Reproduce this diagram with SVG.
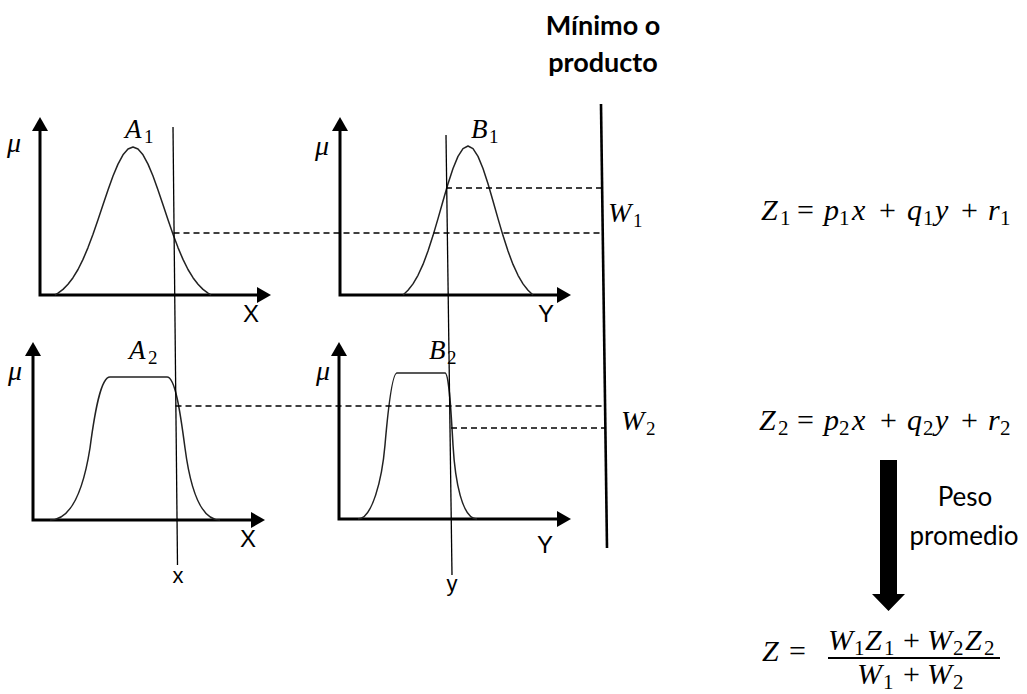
<svg xmlns="http://www.w3.org/2000/svg" width="1027" height="694" viewBox="0 0 1027 694">
<defs>
<marker id="ah" viewBox="0 -8 14 16" refX="0" refY="0" markerWidth="14" markerHeight="16" markerUnits="userSpaceOnUse" orient="auto-start-reverse"><path d="M0,-8 L14,0 L0,8 z" fill="#000"/></marker>
<style>
.axis{fill:none;stroke:#000;stroke-width:3;stroke-linejoin:miter;marker-start:url(#ah);marker-end:url(#ah)}
.curve{fill:none;stroke:#222;stroke-width:1.5;stroke-linejoin:round}
.inp{stroke:#000;stroke-width:1.3;fill:none}
.dash{stroke:#000;stroke-width:1.4;stroke-dasharray:6 4;fill:none}
.wline{stroke:#000;stroke-width:2.6;fill:none}
.m{font-family:"Liberation Serif","DejaVu Serif",serif;font-style:italic;font-size:27px;fill:#000}
.mu{font-size:28px}
.w{font-size:28px}
.eq{font-size:30px}
.n{font-style:normal}
.sub{font-style:normal;font-size:19px}
.esub{font-style:normal;font-size:21px}
.lbl{font-family:"Liberation Sans",Arial,sans-serif;font-size:24px;fill:#000}
.sm{font-size:22px}
.cal{font-family:Lato,"Open Sans",sans-serif;fill:#000}
</style>
</defs>
<rect width="1027" height="694" fill="#fff"/>

<g id="title">
<text class="cal" x="603" y="35" text-anchor="middle" font-size="27" font-weight="bold">Mínimo o</text>
<text class="cal" x="603" y="72" text-anchor="middle" font-size="27" font-weight="bold">producto</text>
</g>

<g id="node-A1">
<path class="axis" d="M40,131 L40,295 L257,295"/>
<path class="curve" d="M55,295 L58,293.2 L63,289.4 L68,284.3 L73,277.7 L78,269.5 L83,259.4 L88,247.6 L93,234.3 L98,219.8 L103,204.8 L108,189.9 L113,176 L118,164.1 L123,154.8 L128,149 L133,147 L138,149 L143,154.8 L148,164.1 L153,176 L158,189.9 L163,204.8 L168,219.8 L173,234.3 L178,247.6 L183,259.4 L188,269.5 L193,277.7 L198,284.3 L203,289.4 L208,293.2 L211,295"/>
<text class="m mu" x="7" y="152">μ</text>
<text class="m" x="125" y="138">A<tspan class="sub" x="144" y="143">1</tspan></text>
<text class="lbl" x="251" y="322" text-anchor="middle">X</text>
</g>

<g id="node-B1">
<path class="axis" d="M340,131 L340,295 L557,295"/>
<path class="curve" d="M403,295 L408,290.3 L413,283.9 L418,275.3 L423,264.4 L428,251.1 L433,235.6 L438,218.6 L443,201 L448,183.8 L453,168.5 L458,156.4 L463,148.7 L468,146 L473,148.7 L478,156.4 L483,168.5 L488,183.8 L493,201 L498,218.6 L503,235.6 L508,251.1 L513,264.4 L518,275.3 L523,283.9 L528,290.3 L533,295"/>
<text class="m mu" x="315" y="155">μ</text>
<text class="m" x="471" y="138">B<tspan class="sub" x="489" y="143">1</tspan></text>
<text class="lbl" x="546" y="322" text-anchor="middle">Y</text>
</g>

<g id="node-A2">
<path class="axis" d="M33,356 L33,520 L251,520"/>
<path class="curve" d="M50,520 C73,520 84,486 90,448 C95,410 101,377 110,377 L167,377 C175,377 180,410 185,448 C190,486 200,520 220,520"/>
<text class="m mu" x="8" y="380">μ</text>
<text class="m" x="129" y="359">A<tspan class="sub" x="148" y="364">2</tspan></text>
<text class="lbl" x="248" y="547" text-anchor="middle">X</text>
</g>

<g id="node-B2">
<path class="axis" d="M339,356 L339,519 L557,519"/>
<path class="curve" d="M358,519 C372,519 382,480 385,445 C388,410 392,373 397,373 L445,373 C449,373 451,410 453,445 C455,480 462,519 477,519"/>
<text class="m mu" x="316" y="380">μ</text>
<text class="m" x="429" y="359">B<tspan class="sub" x="447" y="364">2</tspan></text>
<text class="lbl" x="545" y="553" text-anchor="middle">Y</text>
</g>

<g id="node-W">
<path class="wline" d="M601,104 L607,548"/>
<text class="m w" x="608" y="222">W<tspan class="sub" x="633" y="227">1</tspan></text>
<text class="m w" x="621" y="430">W<tspan class="sub" x="646" y="435">2</tspan></text>
</g>

<g id="connectors">
<path class="inp" d="M173,127 L177.5,565"/>
<path class="inp" d="M446,135 L452,575"/>
<path class="dash" d="M173.5,233 L603,233"/>
<path class="dash" d="M446,188 L602,188"/>
<path class="dash" d="M175.5,406 L606,406"/>
<path class="dash" d="M451,428 L606,428"/>
<polygon points="880,460 897,460 897,594 905,594 888.5,611 872,594 880,594" fill="#000"/>
</g>

<g id="inputs">
<text class="lbl sm" x="178" y="583" text-anchor="middle">x</text>
<text class="lbl sm" x="452" y="591" text-anchor="middle">y</text>
</g>

<g id="eq-Z1">
<text class="m eq"><tspan x="761" y="220">Z</tspan><tspan class="esub" x="780" y="225">1</tspan><tspan class="n" x="797" y="220">=</tspan><tspan x="824" y="220">p</tspan><tspan class="esub" x="839" y="225">1</tspan><tspan x="852" y="220">x</tspan><tspan class="n" x="879" y="220">+</tspan><tspan x="907" y="220">q</tspan><tspan class="esub" x="923" y="225">1</tspan><tspan x="935" y="220">y</tspan><tspan class="n" x="961" y="220">+</tspan><tspan x="988" y="220">r</tspan><tspan class="esub" x="1000" y="225">1</tspan></text>
</g>

<g id="eq-Z2">
<text class="m eq"><tspan x="759" y="430">Z</tspan><tspan class="esub" x="778" y="435">2</tspan><tspan class="n" x="797" y="430">=</tspan><tspan x="824" y="430">p</tspan><tspan class="esub" x="839" y="435">2</tspan><tspan x="852" y="430">x</tspan><tspan class="n" x="880" y="430">+</tspan><tspan x="907" y="430">q</tspan><tspan class="esub" x="923" y="435">2</tspan><tspan x="935" y="430">y</tspan><tspan class="n" x="961" y="430">+</tspan><tspan x="988" y="430">r</tspan><tspan class="esub" x="1000" y="435">2</tspan></text>
</g>

<g id="weight-label">
<text class="cal" x="965" y="506" text-anchor="middle" font-size="26">Peso</text>
<text class="cal" x="964" y="545" text-anchor="middle" font-size="26">promedio</text>
</g>

<g id="eq-Z">
<text class="m eq"><tspan x="762" y="661">Z</tspan><tspan class="n" x="789" y="661">=</tspan></text>
<text class="m eq"><tspan x="828" y="650">W</tspan><tspan class="esub" x="854" y="655">1</tspan><tspan x="865" y="650">Z</tspan><tspan class="esub" x="884" y="655">1</tspan><tspan class="n" x="903" y="650">+</tspan><tspan x="927" y="650">W</tspan><tspan class="esub" x="953" y="655">2</tspan><tspan x="965" y="650">Z</tspan><tspan class="esub" x="984" y="655">2</tspan></text>
<line x1="828" y1="658" x2="1000" y2="658" stroke="#000" stroke-width="2"/>
<text class="m eq"><tspan x="857" y="684">W</tspan><tspan class="esub" x="883" y="689">1</tspan><tspan class="n" x="903" y="684">+</tspan><tspan x="927" y="684">W</tspan><tspan class="esub" x="953" y="689">2</tspan></text>
</g>
</svg>
